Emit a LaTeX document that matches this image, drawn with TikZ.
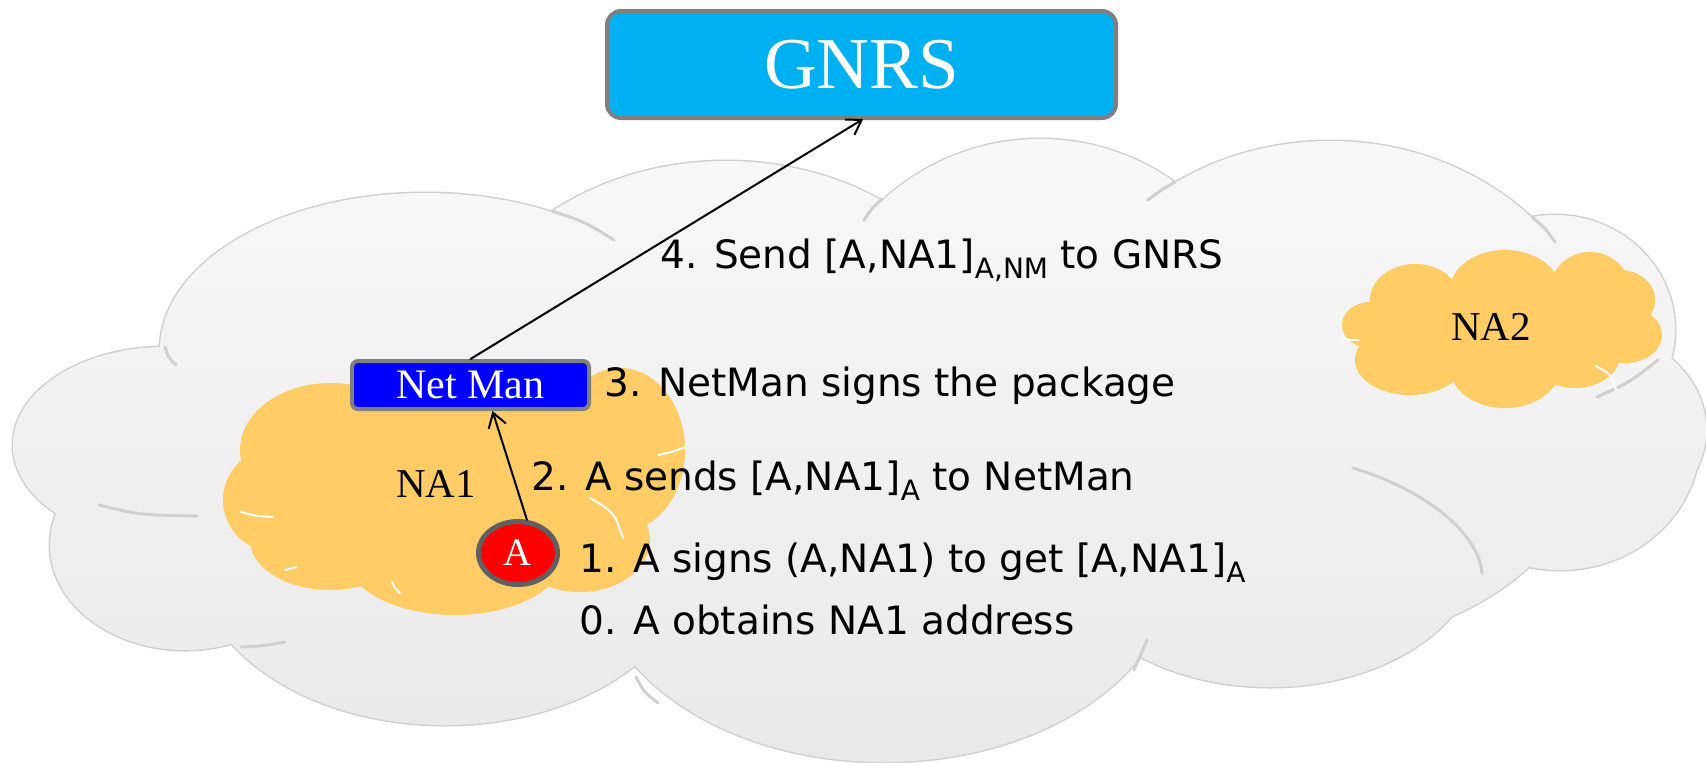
\documentclass[tikz,border=0pt]{standalone}
\usepackage{fontspec}
\setmainfont{Liberation Serif}
\newfontfamily\handfont{DejaVu Sans}
\usetikzlibrary{shapes.geometric,arrows.meta}

\definecolor{gnrscyan}{HTML}{00B0F0}
\definecolor{boxgray}{HTML}{7F7F7F}
\definecolor{ringgray}{HTML}{606060}
\definecolor{naorange}{HTML}{FFCC66}
\definecolor{cloudline}{HTML}{D0D0D0}
\definecolor{cloudtop}{HTML}{F8F8F8}
\definecolor{cloudbottom}{HTML}{E9E9E9}

\newcommand{\signedby}[1]{\raisebox{-5pt}{\fontsize{14}{14}\selectfont #1}}

\begin{document}
\begin{tikzpicture}[x=0.5pt, y=-0.5pt, line join=round, line cap=round,
    steplabel/.style={anchor=base west, inner sep=0pt, font=\handfont\fontsize{19.5}{20}\selectfont},
    naname/.style={inner sep=0pt, font=\fontsize{20.5}{21}\selectfont},
    puffline/.style={draw=cloudline, line width=1.5pt},
    nacrease/.style={draw=white, line width=1pt},
    msg/.style={-{Straight Barb[length=7pt,width=9pt]}, line width=1pt}]
  \useasboundingbox (0,0) rectangle (1706,762);
  % the big cloud
  \shade[preaction={puffline}, top color=cloudtop, bottom color=cloudbottom]
    \foreach \cx/\cy/\rx/\ry in {425/350/265/157, 726/411/289/250, 1040/389/240/250,
      1330/391/280/250, 1555/330/120/115, 1590/430/116/100, 1560/440/140/130,
      1270/545/210/142, 884/562/291/200, 445/555/250/170, 185/545/135/105,
      165/445/152/98, 870/430/600/200}
    { (\cx,\cy) ellipse [x radius=\rx, y radius=\ry] };
  % creases between the puffs
  \draw[puffline] (552,211) .. controls (585,222) .. (614,240);
  \draw[puffline] (165,347) .. controls (168,357) .. (176,365);
  \draw[puffline] (882,199) .. controls (872,208) .. (864,220);
  \draw[puffline] (1175,182) .. controls (1161,190) .. (1148,200);
  \draw[puffline] (1532,217) .. controls (1545,228) .. (1555,242);
  \draw[puffline] (1597,397) .. controls (1630,382) .. (1658,360);
  \draw[puffline] (99,505) .. controls (140,515) .. (197,516);
  \draw[puffline] (241,647) .. controls (262,646) .. (285,642);
  \draw[puffline] (636,677) .. controls (644,692) .. (658,703);
  \draw[puffline] (1353,468) .. controls (1420,488) and (1478,530) .. (1482,573);
  \draw[puffline] (1147,640) .. controls (1141,655) .. (1134,670);
  % NA1 and NA2
  \fill[naorange] \foreach \cx/\cy/\rx/\ry in {330/450/90/67, 470/440/120/70,
      620/450/65/82, 275/500/52/52, 330/540/80/50, 455/555/110/60,
      580/540/70/52, 450/490/190/80}
    { (\cx,\cy) ellipse [x radius=\rx, y radius=\ry] };
  \fill[naorange] \foreach \cx/\cy/\rx/\ry in {1415/300/45/36, 1505/290/55/40,
      1590/290/40/38, 1620/300/35/30, 1625/335/37/28, 1575/355/45/33,
      1505/368/55/40, 1410/360/55/35, 1370/325/28/23, 1500/325/125/45}
    { (\cx,\cy) ellipse [x radius=\rx, y radius=\ry] };
  \draw[nacrease] (241,512) .. controls (256,516) .. (273,517);
  \draw[nacrease] (285,570) .. controls (291,569) .. (296,567);
  \draw[nacrease] (392,582) .. controls (395,588) .. (400,593);
  \draw[nacrease] (590,498) .. controls (614,512) .. (623,538);
  \draw[nacrease] (658,455) .. controls (672,452) .. (686,447);
  \draw[nacrease] (1596,366) .. controls (1612,375) .. (1616,390);
  \draw[nacrease] (1342,338) .. controls (1350,340) .. (1359,340);
  \node[naname] (na1) at (436,484) {NA1};
  \node[naname] (na2) at (1491,327) {NA2};

  \node[draw=boxgray, line width=2pt, fill=gnrscyan, rounded corners=7pt, inner sep=0pt,
    minimum width=254.5pt, minimum height=53.5pt, text=white,
    font=\fontsize{36.5}{37}\selectfont] (gnrs) at (861.5,64.5) {GNRS};
  \node[draw=boxgray, line width=2pt, fill=blue, rounded corners=3pt, inner sep=0pt,
    minimum width=118.5pt, minimum height=24pt, text=white,
    font=\fontsize{21}{22}\selectfont] (netman) at (470.5,385) {Net Man};
  \node[ellipse, draw=ringgray, line width=2.5pt, fill=red, inner sep=0pt,
    minimum width=39.5pt, minimum height=31.5pt, text=white,
    font=\fontsize{19.5}{20}\selectfont] (A) at (518,553) {A};

  \node[steplabel] (s4) at (660,268) {4. Send [A,NA1]\signedby{A,NM} to GNRS};
  \node[steplabel] (s3) at (604,396) {3. NetMan signs the package};
  \node[steplabel] (s2) at (531,490) {2. A sends [A,NA1]\signedby{A} to NetMan};
  \node[steplabel] (s1) at (579,572) {1. A signs (A,NA1) to get [A,NA1]\signedby{A}};
  \node[steplabel] (s0) at (579,634) {0. A obtains NA1 address};

  \draw[msg, shorten >=-1pt] (netman.north) -- (gnrs.south);
  \draw[msg] (A.75) -- ([xshift=11pt]netman.south);
\end{tikzpicture}
\end{document}
